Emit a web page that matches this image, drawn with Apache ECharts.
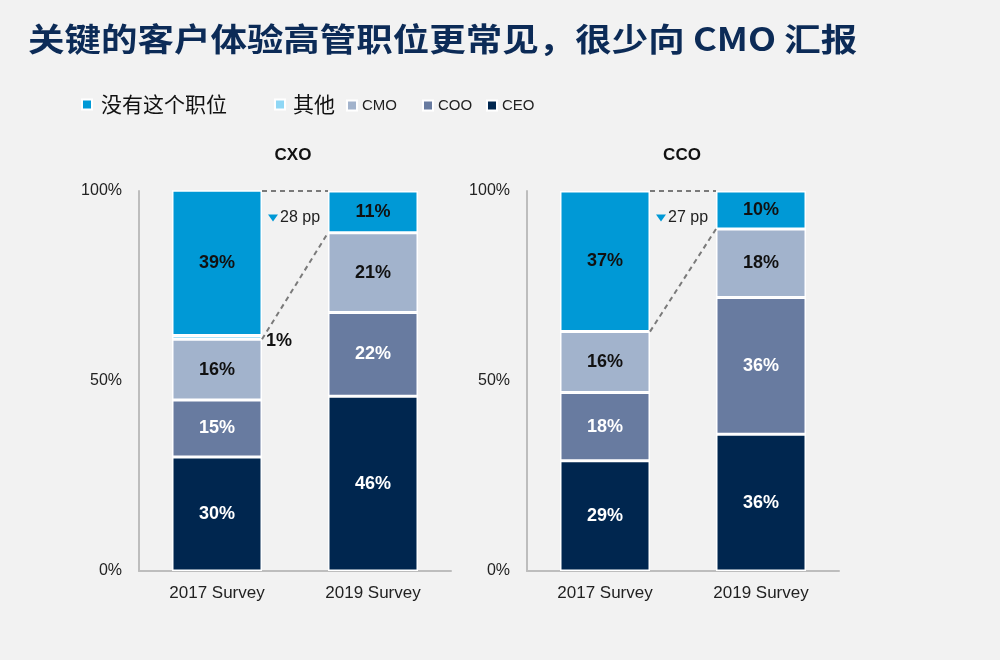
<!DOCTYPE html>
<html>
<head>
<meta charset="utf-8">
<script src="https://cdn.jsdelivr.net/npm/echarts@6/dist/echarts.min.js"></script>
<style>
html,body{margin:0;padding:0;background:#f2f2f2;}
#chart{width:1000px;height:660px;}
</style>
</head>
<body>
<div id="chart"></div>
<script>
// ---- data ----
const chartTitle = '关键的客户体验高管职位更常见，很少向 CMO 汇报';
const categories = ['2017 Survey', '2019 Survey'];
const panelNames = ['CXO', 'CCO'];
const seriesNames = ['没有这个职位', '其他', 'CMO', 'COO', 'CEO'];
const yTickValues = [0, 50, 100];

const cxoCEO = [30, 46];
const cxoCOO = [15, 22];
const cxoCMO = [16, 21];
const cxoOther = [1, 0];
const cxoNone = [39, 11];

const ccoCEO = [29, 36];
const ccoCOO = [18, 36];
const ccoCMO = [16, 18];
const ccoOther = [0, 0];
const ccoNone = [37, 10];

const ppDrop = [28, 27];

// ---- styles ----
const colors = {
  '没有这个职位': '#0099d6',
  '其他': '#8fd7f5',
  'CMO': '#a2b3cc',
  'COO': '#687ba0',
  'CEO': '#00264f'
};
const labelColors = {
  '没有这个职位': '#111',
  '其他': '#111',
  'CMO': '#111',
  'COO': '#fff',
  'CEO': '#fff'
};
const latin = 'Arial, "Liberation Sans", sans-serif';
const cjk = '"Noto Sans CJK SC", "Noto Sans", sans-serif';

const panels = [
  { '没有这个职位': cxoNone, '其他': cxoOther, 'CMO': cxoCMO, 'COO': cxoCOO, 'CEO': cxoCEO },
  { '没有这个职位': ccoNone, '其他': ccoOther, 'CMO': ccoCMO, 'COO': ccoCOO, 'CEO': ccoCEO }
];

const gridLefts = [139, 527];
const grids = gridLefts.map(l => ({ left: l, top: 191, width: 312, height: 380 }));

const xAxes = grids.map((g, i) => ({
  type: 'category', gridIndex: i, data: categories,
  axisLine: { lineStyle: { color: '#bdbdbd', width: 2 } },
  axisTick: { show: false },
  axisLabel: { fontSize: 17, color: '#222', fontFamily: latin, margin: 14 }
}));
const yAxes = grids.map((g, i) => ({
  type: 'value', gridIndex: i, min: yTickValues[0], max: yTickValues[yTickValues.length - 1], interval: 50,
  axisLine: { show: true, lineStyle: { color: '#bdbdbd', width: 2 } },
  axisTick: { show: false },
  splitLine: { show: false },
  axisLabel: { formatter: '{value}%', fontSize: 16, color: '#222', fontFamily: latin, margin: 17 }
}));

const stackOrder = ['CEO', 'COO', 'CMO', '其他', '没有这个职位'];
const series = [];
panels.forEach((p, pi) => {
  stackOrder.forEach(name => {
    const vals = p[name];
    series.push({
      name: name, type: 'bar', stack: 'p' + pi, xAxisIndex: pi, yAxisIndex: pi,
      barWidth: 90,
      itemStyle: { color: colors[name], borderColor: '#ffffff', borderWidth: 1.5 },
      data: vals.map(v => {
        const item = { value: v };
        if (name === '其他') {
          item.label = { show: v > 0, position: 'right', distance: 4, offset: [0, 4] };
        } else {
          item.label = { show: v > 0 };
        }
        return item;
      }),
      label: {
        show: true, position: 'inside', formatter: '{c}%',
        fontSize: 18, fontWeight: 'bold', fontFamily: latin, color: labelColors[name]
      },
      emphasis: { disabled: true }
    });
  });
  // connector lines + annotation
  const b17 = p['CEO'][0] + p['COO'][0] + p['CMO'][0];
  const b19 = p['CEO'][1] + p['COO'][1] + p['CMO'][1];
  series.push({
    type: 'custom', xAxisIndex: pi, yAxisIndex: pi, z: 10, silent: true,
    data: [[0, 100, b17, b19, ppDrop[pi]]],
    encode: { x: 0, y: 1 },
    renderItem: function (params, api) {
      const top0 = api.coord([0, api.value(1)]);
      const top1 = api.coord([1, api.value(1)]);
      const bot0 = api.coord([0, api.value(2)]);
      const bot1 = api.coord([1, api.value(3)]);
      const ann = api.coord([0, 93]);
      const hw = 45;
      const dash = { stroke: '#7a7a7a', lineWidth: 2, lineDash: [5, 4] };
      const xr = top0[0] + hw;
      return {
        type: 'group',
        children: [
          { type: 'line', shape: { x1: xr, y1: top0[1], x2: top1[0] - hw, y2: top1[1] }, style: dash },
          { type: 'line', shape: { x1: xr, y1: bot0[1], x2: bot1[0] - hw, y2: bot1[1] }, style: dash },
          { type: 'polygon', shape: { points: [[xr + 6, ann[1] - 3], [xr + 16, ann[1] - 3], [xr + 11, ann[1] + 4]] }, style: { fill: '#0099d6' } },
          { type: 'text', x: xr + 18, y: ann[1], style: { text: api.value(4) + ' pp', fill: '#222', font: '16px ' + latin, verticalAlign: 'middle', align: 'left' } }
        ]
      };
    }
  });
});

const legendLefts = [81, 274, 346, 422, 486];
const legends = seriesNames.map((n, i) => {
  const isCjk = i < 2;
  return {
    data: [n], left: legendLefts[i], top: isCjk ? 94 : 98, padding: 0,
    icon: 'rect', itemWidth: 10, itemHeight: 10, selectedMode: false,
    textStyle: isCjk
      ? { fontSize: 21, color: '#111', fontFamily: cjk, padding: [0, 0, 0, i === 0 ? 4 : 3] }
      : { fontSize: 15, color: '#222', fontFamily: latin, padding: [0, 0, 0, 0] }
  };
});

const option = {
  backgroundColor: '#f2f2f2',
  animation: false,
  title: [
    { text: panelNames[0], left: 293, top: 147, padding: 0, textAlign: 'center',
      textStyle: { fontFamily: latin, fontSize: 17, fontWeight: 'bold', color: '#111' } },
    { text: panelNames[1], left: 682, top: 147, padding: 0, textAlign: 'center',
      textStyle: { fontFamily: latin, fontSize: 17, fontWeight: 'bold', color: '#111' } }
  ],
  graphic: [
    { type: 'text', x: 28, y: 39, scaleX: 1.14, silent: true,
      style: { text: chartTitle, font: 'bold 32px ' + cjk, fill: '#0c2b57', verticalAlign: 'middle', align: 'left' } }
  ],
  legend: legends,
  grid: grids,
  xAxis: xAxes,
  yAxis: yAxes,
  series: series
};

const chart = echarts.init(document.getElementById('chart'), null, { renderer: 'canvas' });
chart.setOption(option);
</script>
</body>
</html>
